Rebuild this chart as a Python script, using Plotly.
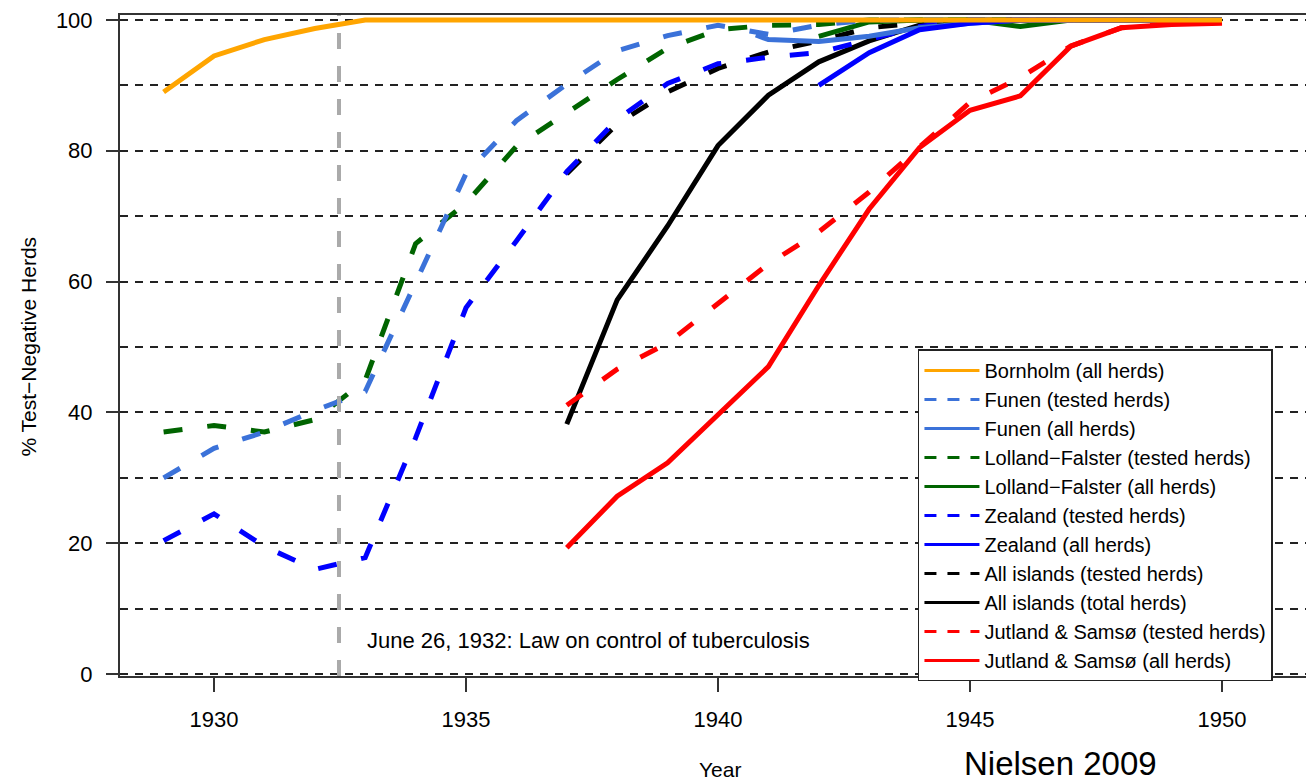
import plotly.graph_objects as go

# ---------------- data ----------------
YEARS_1929 = list(range(1929, 1951))

bornholm_all = [89.0, 94.5, 97.0, 98.7, 100, 100, 100, 100, 100, 100, 100,
                100, 100, 100, 100, 100, 100, 100, 100, 100, 100, 100]

funen_tested = [30.0, 34.5, 37.0, 40.3, 43.2, 60.0, 76.5, 84.6, 90.2, 95.3, 97.6,
                99.2, 97.8, 99.2, 100, 100, 100, 100, 100, 100, 100, 100]

funen_all_years = [1940.75, 1941, 1942, 1943, 1944, 1945, 1946, 1947, 1948, 1949, 1950]
funen_all = [97.7, 97.0, 96.7, 97.5, 98.8, 99.5, 100, 100, 100, 100, 100]

lolland_tested = [37.0, 38.0, 37.0, 38.9, 44.9, 65.8, 72.0, 80.7, 85.8, 90.9, 95.7,
                  98.5, 99.2, 99.3, 100, 100, 100, 100, 100, 100, 100, 100]

lolland_all_years = list(range(1942, 1951))
lolland_all = [97.5, 99.7, 100, 100, 99.0, 100, 100, 100, 100]

zealand_tested = [20.4, 24.5, 19.5, 16.0, 17.8, 36.1, 56.0, 66.2, 76.8, 84.8, 90.3,
                  93.3, 94.3, 95.0, 97.0, 99.0, 100, 100, 100, 100, 100, 100]

zealand_all_years = list(range(1942, 1951))
zealand_all = [90.0, 95.0, 98.5, 99.5, 100, 100, 100, 100, 100]

LATE_YEARS = list(range(1937, 1951))
islands_tested = [76.5, 84.1, 89.0, 92.6, 95.1, 96.8, 98.8, 99.6, 100, 100, 100, 100, 100, 100]
islands_total = [38.2, 57.2, 68.5, 80.8, 88.5, 93.6, 96.8, 99.2, 100, 100, 100, 100, 100, 100]
jutland_tested = [41.1, 46.6, 50.6, 56.6, 62.7, 67.6, 73.7, 80.6, 87.4, 91.2, 96.0, 98.8, 99.5, 99.7]
jutland_all = [19.3, 27.2, 32.3, 39.7, 47.0, 59.4, 71.1, 80.5, 86.2, 88.4, 96.0, 98.8, 99.3, 99.5]

LAW_DATE = 1932.48  # June 26, 1932
LAW_TEXT = "June 26, 1932: Law on control of tuberculosis"

X_TICKS = [1930, 1935, 1940, 1945, 1950]
Y_TICKS = [0, 20, 40, 60, 80, 100]

# ---------------- styles ----------------
ORANGE = "#FFA500"
STEEL = "#3b72d9"
GREEN = "#006400"
BLUE = "#0000FF"
BLACK = "#000000"
RED = "#FF0000"
FONT = "Liberation Sans, Arial, sans-serif"
DASH = "19px,25px"
LEG_DASH = "12px,11px"
LW = 5

fig = go.Figure()

# drawing order (bottom -> top)
draw = [
    (LATE_YEARS, islands_tested, BLACK, DASH),
    (LATE_YEARS, islands_total, BLACK, "solid"),
    (YEARS_1929, lolland_tested, GREEN, DASH),
    (lolland_all_years, lolland_all, GREEN, "solid"),
    (YEARS_1929, zealand_tested, BLUE, DASH),
    (YEARS_1929, funen_tested, STEEL, DASH),
    (funen_all_years, funen_all, STEEL, "solid"),
    (zealand_all_years, zealand_all, BLUE, "solid"),
    (LATE_YEARS, jutland_tested, RED, DASH),
    (LATE_YEARS, jutland_all, RED, "solid"),
    (YEARS_1929, bornholm_all, ORANGE, "solid"),
]
for xs, ys, col, dash in draw:
    fig.add_trace(go.Scatter(x=xs, y=ys, mode="lines", showlegend=False,
                             hoverinfo="skip",
                             line=dict(color=col, width=LW, dash=dash)))

# legend entries (in the reference's order)
legend_items = [
    ("Bornholm (all herds)", ORANGE, "solid"),
    ("Funen (tested herds)", STEEL, LEG_DASH),
    ("Funen (all herds)", STEEL, "solid"),
    ("Lolland\u2212Falster (tested herds)", GREEN, LEG_DASH),
    ("Lolland\u2212Falster (all herds)", GREEN, "solid"),
    ("Zealand (tested herds)", BLUE, LEG_DASH),
    ("Zealand (all herds)", BLUE, "solid"),
    ("All islands (tested herds)", BLACK, LEG_DASH),
    ("All islands (total herds)", BLACK, "solid"),
    ("Jutland & Sams\u00f8 (tested herds)", RED, LEG_DASH),
    ("Jutland & Sams\u00f8 (all herds)", RED, "solid"),
]
for name, col, dash in legend_items:
    fig.add_trace(go.Scatter(x=[None], y=[None], mode="lines", name=name,
                             line=dict(color=col, width=3, dash=dash)))

fig.add_vline(x=LAW_DATE, line=dict(color="#aaaaaa", width=4, dash="16px,17px"),
              layer="above")

grid = dict(showgrid=True, gridcolor="#222222", gridwidth=1.8, griddash="8px,7px")

# the page body adds an 8px offset, so the figure is 8px smaller and margins shifted
fig.update_layout(
    width=1306, height=774,
    margin=dict(l=112, r=0, t=4, b=106),
    paper_bgcolor="white", plot_bgcolor="white",
    font=dict(family=FONT, size=20, color="black"),
    xaxis=dict(range=[1928.135, 1951.825], tickvals=X_TICKS, showgrid=False,
               zeroline=False, showline=True, linecolor="#333333", linewidth=2,
               mirror=True, ticks="outside", ticklen=14, tickwidth=1.5,
               tickcolor="#333333", ticklabelstandoff=9,
               ticklabeloverflow="allow", tickfont=dict(size=22)),
    yaxis=dict(range=[-0.3, 100.76], tickvals=Y_TICKS, zeroline=False,
               showline=True, linecolor="#333333", linewidth=2, mirror=False,
               ticks="outside", ticklen=12, tickwidth=1.5, tickcolor="#333333",
               ticklabelstandoff=9, ticklabeloverflow="allow",
               tickfont=dict(size=22),
               minor=dict(dtick=10, tick0=0, ticks="", **grid), **grid),
    legend=dict(x=0.6683, y=0.494, xanchor="left", yanchor="top",
                bgcolor="white", bordercolor="#222222", borderwidth=1.5,
                font=dict(size=20), itemwidth=55, traceorder="normal"),
    showlegend=True,
)

fig.add_annotation(text=LAW_TEXT, xref="paper", yref="paper", x=0.2052, y=0.054,
                   xanchor="left", yanchor="middle", showarrow=False,
                   font=dict(size=22))
fig.add_annotation(text="% Test\u2212Negative Herds", xref="paper", yref="paper",
                   x=-0.077, y=0.4985, textangle=-90, xanchor="center",
                   yanchor="middle", showarrow=False, font=dict(size=21))
fig.add_annotation(text="Year", xref="paper", yref="paper", x=0.5025, y=-0.141,
                   xanchor="center", yanchor="middle", showarrow=False,
                   font=dict(size=21))
fig.add_annotation(text="Nielsen 2009", xref="paper", yref="paper", x=0.788,
                   y=-0.132, xanchor="center", yanchor="middle", showarrow=False,
                   font=dict(size=33))

fig.write_html("out.html")
